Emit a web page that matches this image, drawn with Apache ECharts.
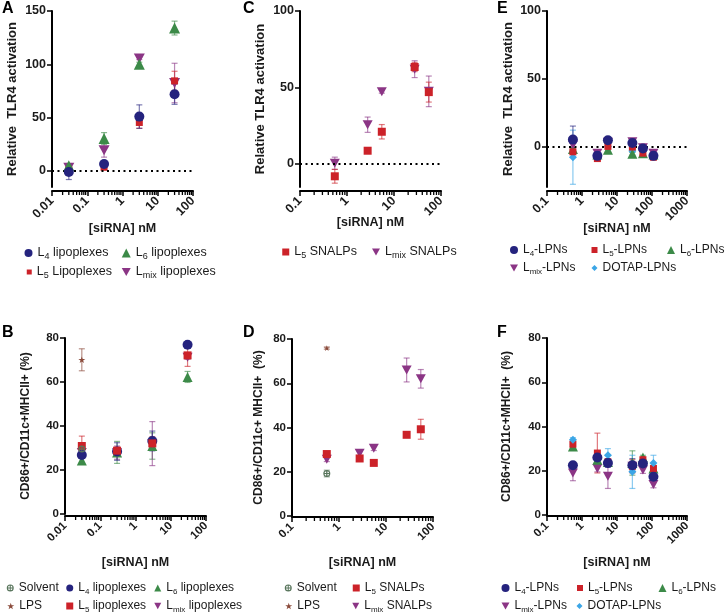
<!DOCTYPE html>
<html>
<head>
<meta charset="utf-8">
<script src="https://cdn.jsdelivr.net/npm/echarts@6.0.0/dist/echarts.min.js"></script>
<style>
  html, body { margin: 0; padding: 0; background: #fff; }
  #main { width: 727px; height: 615px; }
</style>
</head>
<body>
<div id="main"></div>
<script>
// ---------- data ----------
// A: TLR4 activation, lipoplexes
var concA = [0.03, 0.3, 3, 30];
var aL4 = [-1, 6.5, 51, 72],      aL4Err = [7, 1.5, 11, 9.5];
var aL5 = [1, 3.5, 45.5, 84.5],   aL5Err = [1, 1, 5.5, 9];
var aL6 = [5, 30.5, 100, 134],    aL6Err = [2, 5.5, 2, 6.5];
var aLmix = [3, 19.5, 105.5, 82.5], aLmixErr = [1, 6.5, 1, 18.5];

// B: CD86+ cells, lipoplexes
var concB = [0.03, 0.3, 3, 30];
var concBctl = [0.03];
var bL4 = [26.8, 28.4, 33.2, 76.9],  bL4Err = [1, 4, 4.5, 1];
var bL5 = [30.9, 28.8, 32.1, 72.1],  bL5Err = [4.5, 1.5, 3, 5];
var bL6 = [24.3, 28, 30.9, 62.3],    bL6Err = [1, 5, 6, 2.5];
var bLmix = [28, 27.9, 32, 71.3],    bLmixErr = [1, 3, 10, 1];
var bSolvent = [29.5], bSolventErr = [1];
var bLPS = [70.1], bLPSErr = [5];

// C: TLR4 activation, SNALPs
var concC = [0.55, 2.75, 5.5, 27.5, 55];
var cL5 = [-8, 8.7, 21.1, 63.4, 47],    cL5Err = [4.5, 1, 4.7, 3, 6.5];
var cLmix = [0.5, 25.7, 47.3, 62, 47.5], cLmixErr = [4, 5, 1, 5.5, 10];

// D: CD86+ cells, SNALPs
var concD = [0.55, 2.75, 5.5, 27.5, 55];
var concDctl = [0.55];
var dL5 = [28, 26, 24, 36.7, 39.2],   dL5Err = [1, 1, 1, 1, 4.5];
var dLmix = [25.6, 28.4, 30.6, 66, 62], dLmixErr = [1, 1, 1, 5.4, 4.2];
var dSolvent = [19.2], dSolventErr = [1.5];
var dLPS = [75.9], dLPSErr = [0.5];

// E: TLR4 activation, LPNs
var concE = [0.55, 2.75, 5.5, 27.5, 55, 110];
var eL4 = [5, -7, 4.5, 2.5, -1.5, -7],   eL4Err = [10, 2, 1, 1, 1, 1];
var eL5 = [-4, -9, 0, -0.5, -5, -8],     eL5Err = [2, 1, 1, 1, 1, 1];
var eL6 = [-2, -6, -2.5, -5.5, -5, -6],  eL6Err = [1, 1, 1, 1, 1, 1];
var eLmix = [1, -5, 3, 3.5, -1, -5],     eLmixErr = [2, 1, 1, 1, 1, 1];
var eDOTAP = [-8, -6, 0, -3.5, -3, -6],  eDOTAPErr = [20, 1, 1, 1, 1, 1];

// F: CD86+ cells, LPNs
var concF = [0.55, 2.75, 5.5, 27.5, 55, 110];
var fL4 = [22.5, 26, 23.5, 22.5, 23.3, 17.3],  fL4Err = [1, 2, 2, 3, 1, 1.5];
var fL5 = [32, 28, 24, 22, 25, 21],            fL5Err = [1, 9, 1, 3, 1, 1];
var fL6 = [31, 25, 24, 23.5, 26, 21],          fL6Err = [1, 1, 1, 5.5, 1, 1.5];
var fLmix = [19, 21, 17.5, 22, 20.3, 13.8],    fLmixErr = [3.5, 1.5, 5.5, 2, 1.5, 1.5];
var fDOTAP = [34, 26, 27, 19.5, 23, 23.5],     fDOTAPErr = [1, 1, 3, 7.5, 1, 3.5];

// ---------- styles ----------
var FONT = 'Arial, "Liberation Sans", Helvetica, sans-serif';
var NAVY = '#25237e', RED = '#cc2229', GREEN = '#3c8a48', PURPLE = '#8b3585',
    BLUE = '#3ca6e6', BROWN = '#8a4a3a', SOLV = '#58755c';
var SYM = {
  circle: 'circle', rect: 'rect', triangle: 'triangle', diamond: 'diamond',
  down: 'path://M0,0L10,0L5,9Z',
  star: 'path://M5,0L6.18,3.62L10,3.62L6.91,5.86L8.09,9.5L5,7.24L1.91,9.5L3.09,5.86L0,3.62L3.82,3.62Z',
  solvent: 'path://M0,5A5,5,0,1,1,10,5A5,5,0,1,1,0,5ZM1.6,5A3.4,3.4,0,1,0,8.4,5A3.4,3.4,0,1,0,1.6,5ZM4.3,0.5L5.7,0.5L5.7,9.5L4.3,9.5ZM0.5,4.3L9.5,4.3L9.5,5.7L0.5,5.7Z'
};

var panels = [
  { letter: 'A', lx: 2, ly: 1, box: [52, 11, 141, 176], xmin: 0.01, xmax: 100, xoff: 4,
    ymin: -15, ymax: 150, yTicks: [0, 50, 100, 150], yName: 'Relative  TLR4 activation',
    yGap: 33, xGap: 31, fs: 13, zero: true,
    groups: [
      ['Lmix lipoplexes', concA, aLmix, aLmixErr, 'down', 11, PURPLE],
      ['L5 Lipoplexes', concA, aL5, aL5Err, 'rect', 7, RED],
      ['L6 lipoplexes', concA, aL6, aL6Err, 'triangle', 11, GREEN],
      ['L4 lipoplexes', concA, aL4, aL4Err, 'circle', 10, NAVY]
    ] },
  { letter: 'C', lx: 243, ly: 1, box: [300, 11, 141, 176], xmin: 0.1, xmax: 100, xoff: 4,
    ymin: -15, ymax: 100, yTicks: [0, 50, 100], yName: 'Relative TLR4 activation',
    yGap: 33, xGap: 25, fs: 13, zero: true,
    groups: [
      ['Lmix SNALPs', concC, cLmix, cLmixErr, 'down', 10, PURPLE],
      ['L5 SNALPs', concC, cL5, cL5Err, 'rect', 8, RED]
    ] },
  { letter: 'E', lx: 497, ly: 1, box: [547, 11, 140, 176], xmin: 0.1, xmax: 1000, xoff: 4,
    ymin: -30, ymax: 100, yTicks: [0, 50, 100], yName: 'Relative  TLR4 activation',
    yGap: 32, xGap: 31, fs: 13, zero: true,
    groups: [
      ['DOTAP-LPNs', concE, eDOTAP, eDOTAPErr, 'diamond', 8, BLUE],
      ['L6-LPNs', concE, eL6, eL6Err, 'triangle', 10, GREEN],
      ['Lmix-LPNs', concE, eLmix, eLmixErr, 'down', 10, PURPLE],
      ['L5-LPNs', concE, eL5, eL5Err, 'rect', 7, RED],
      ['L4-LPNs', concE, eL4, eL4Err, 'circle', 10, NAVY]
    ] },
  { letter: 'B', lx: 2, ly: 325, box: [65, 338, 141, 176], xmin: 0.01, xmax: 100, xoff: 2,
    ymin: 0, ymax: 80, yName: 'CD86+/CD11c+MHCII+ (%)',
    yGap: 33, xGap: 40, fs: 12,
    groups: [
      ['L6 lipoplexes', concB, bL6, bL6Err, 'triangle', 10, GREEN],
      ['Lmix lipoplexes', concB, bLmix, bLmixErr, 'down', 10, PURPLE],
      ['L4 lipoplexes', concB, bL4, bL4Err, 'circle', 10, NAVY],
      ['L5 lipoplexes', concB, bL5, bL5Err, 'rect', 8, RED],
      ['Solvent', concBctl, bSolvent, bSolventErr, 'solvent', 7, SOLV],
      ['LPS', concBctl, bLPS, bLPSErr, 'star', 7, BROWN]
    ] },
  { letter: 'D', lx: 243, ly: 325, box: [292, 339, 141, 177], xmin: 0.1, xmax: 100, xoff: 1,
    ymin: 0, ymax: 80, yName: 'CD86+/CD11c+ MHCII+  (%)',
    yGap: 27, xGap: 39, fs: 12,
    groups: [
      ['Solvent', concDctl, dSolvent, dSolventErr, 'solvent', 7, SOLV],
      ['LPS', concDctl, dLPS, dLPSErr, 'star', 6, BROWN],
      ['Lmix SNALPs', concD, dLmix, dLmixErr, 'down', 10, PURPLE],
      ['L5 SNALPs', concD, dL5, dL5Err, 'rect', 8, RED]
    ] },
  { letter: 'F', lx: 497, ly: 325, box: [547, 338, 140, 177], xmin: 0.1, xmax: 1000, xoff: 1,
    ymin: 0, ymax: 80, yName: 'CD86+/CD11c+MHCII+  (%)',
    yGap: 34, xGap: 40, fs: 12,
    groups: [
      ['Lmix-LPNs', concF, fLmix, fLmixErr, 'down', 10, PURPLE],
      ['L6-LPNs', concF, fL6, fL6Err, 'triangle', 10, GREEN],
      ['L5-LPNs', concF, fL5, fL5Err, 'rect', 7, RED],
      ['DOTAP-LPNs', concF, fDOTAP, fDOTAPErr, 'diamond', 8, BLUE],
      ['L4-LPNs', concF, fL4, fL4Err, 'circle', 10, NAVY]
    ] }
];

// legend items: name, icon centre x, y, icon size, text start x, font size
var legendSpec = [
  ['L4 lipoplexes', 28, 253, 8, 38, 12.5], ['L6 lipoplexes', 127, 253, 9, 135, 12.5],
  ['L5 Lipoplexes', 28, 272, 5, 38, 12.5], ['Lmix lipoplexes', 127, 272, 9, 135, 12.5],
  ['L5 SNALPs', 283, 252, 7, 297, 12.5], ['Lmix SNALPs', 375, 252, 8, 386, 12.5],
  ['L4-LPNs', 512, 250, 8, 525, 12], ['L5-LPNs', 593, 250, 6, 604, 12],
  ['L6-LPNs', 671, 250, 8, 680, 12], ['Lmix-LPNs', 512, 268, 8, 525, 12],
  ['DOTAP-LPNs', 593, 268, 6, 604, 12],
  ['Solvent', 12, 588, 7, 17, 12], ['L4 lipoplexes', 70, 588, 7, 78, 12],
  ['L6 lipoplexes', 158, 588, 7, 166, 12], ['LPS', 12, 606, 7, 18, 12],
  ['L5 lipoplexes', 70, 606, 7, 78, 12], ['Lmix lipoplexes', 158, 606, 7, 166, 12],
  ['Solvent', 289, 588, 7, 296, 12], ['L5 SNALPs', 357, 588, 7, 364, 12],
  ['LPS', 290, 606, 7, 296, 12], ['Lmix SNALPs', 356, 606, 7, 364, 12],
  ['L4-LPNs', 507, 588, 8, 513, 12], ['L5-LPNs', 580, 588, 6, 588, 12],
  ['L6-LPNs', 662, 588, 8, 672, 12], ['Lmix-LPNs', 507, 606, 8, 513, 12],
  ['DOTAP-LPNs', 580, 606, 6, 587, 12]
];

// ---------- build option ----------
function minorTicks(lo, hi) {
  var out = [];
  for (var d = lo; d < hi * 0.999; d *= 10) {
    for (var k = 2; k <= 9; k++) out.push(+(d * k).toPrecision(3));
  }
  return out;
}

function errSeries(xi, yi, conc, vals, errs, color) {
  return {
    type: 'custom', xAxisIndex: xi, yAxisIndex: yi, z: 2, silent: true, clip: false,
    encode: { x: 0, y: 1 },
    data: conc.map(function (c, i) { return [c, vals[i], errs[i]]; }),
    renderItem: function (params, api) {
      var x = api.value(0), y = api.value(1), e = api.value(2);
      var a = api.coord([x, y + e]), b = api.coord([x, y - e]);
      var st = { stroke: color, lineWidth: 1.2, opacity: 0.6 };
      return { type: 'group', children: [
        { type: 'line', shape: { x1: a[0], y1: a[1], x2: b[0], y2: b[1] }, style: st },
        { type: 'line', shape: { x1: a[0] - 3, y1: a[1], x2: a[0] + 3, y2: a[1] }, style: st },
        { type: 'line', shape: { x1: b[0] - 3, y1: b[1], x2: b[0] + 3, y2: b[1] }, style: st }
      ] };
    }
  };
}

// minor log ticks, placed through the axis scale
function minorTickSeries(xi, yi, p) {
  return {
    type: 'custom', xAxisIndex: xi, yAxisIndex: yi, z: 10, silent: true, clip: false,
    encode: { x: 0, y: 1 },
    data: minorTicks(p.xmin, p.xmax).map(function (v) { return [v, p.ymin]; }),
    renderItem: function (params, api) {
      var pt = api.coord([api.value(0), api.value(1)]);
      var y0 = pt[1] + p.xoff;
      return { type: 'line', shape: { x1: pt[0], y1: y0, x2: pt[0], y2: y0 + 4 },
               style: { stroke: '#000', lineWidth: 1.3 } };
    }
  };
}

var grids = [], xAxes = [], yAxes = [], series = [], legends = [], graphics = [];
var axisText = { fontFamily: FONT, fontWeight: 'bold', color: '#1a1a1a' };

panels.forEach(function (p, gi) {
  grids.push({ left: p.box[0], top: p.box[1], width: p.box[2], height: p.box[3],
               containLabel: false, outerBoundsMode: 'none' });
  xAxes.push({
    type: 'log', logBase: 10, gridIndex: gi, position: 'bottom',
    min: p.xmin, max: p.xmax, offset: p.xoff,
    name: '[siRNA] nM', nameLocation: 'middle', nameGap: p.xGap, nameMoveOverlap: false,
    nameTextStyle: Object.assign({ fontSize: 12.5 }, axisText),
    axisLine: { show: true, onZero: false, lineStyle: { color: '#000', width: 2 } },
    axisTick: { show: true, length: 5, lineStyle: { color: '#000', width: 1.5 } },
    axisLabel: Object.assign({
      rotate: 45, margin: 8, fontSize: p.fs - 0.5,
      formatter: function (v) { return String(+(+v).toPrecision(6)); }
    }, axisText),
    splitLine: { show: false }, minorTick: { show: false }
  });
  var yLabel = Object.assign({ margin: 6, fontSize: p.fs - 0.5 }, axisText);
  var yTick = { show: true, length: 5, lineStyle: { color: '#000', width: 1.5 } };
  var yAx = {
    type: 'value', gridIndex: gi, min: p.ymin, max: p.ymax,
    name: p.yName, nameLocation: 'middle', nameGap: p.yGap, nameMoveOverlap: false,
    nameTextStyle: Object.assign({ fontSize: p.fs }, axisText),
    axisLine: { show: true, onZero: false, lineStyle: { color: '#000', width: 2 } },
    axisTick: yTick, axisLabel: yLabel, splitLine: { show: false }
  };
  if (p.yTicks) {
    yLabel.customValues = p.yTicks;
    yTick.customValues = p.yTicks;
  } else {
    yAx.interval = 20;
  }
  yAxes.push(yAx);

  series.push(minorTickSeries(gi, gi, p));
  p.groups.forEach(function (g, k) {
    var s = {
      type: 'scatter', name: g[0], xAxisIndex: gi, yAxisIndex: gi, z: 3 + k,
      symbol: SYM[g[4]], symbolSize: g[5], symbolKeepAspect: true,
      itemStyle: { color: g[6], opacity: 1 },
      data: g[1].map(function (c, i) { return [c, g[2][i]]; })
    };
    if (k === 0 && p.zero) {
      s.markLine = {
        silent: true, symbol: 'none', label: { show: false },
        lineStyle: { color: '#000', width: 2, type: [2, 3.5] },
        data: [{ yAxis: 0 }]
      };
    }
    series.push(s);
    if (g[3]) series.push(errSeries(gi, gi, g[1], g[2], g[3], g[6]));
  });

  graphics.push({ type: 'text', left: p.lx, top: p.ly,
                  style: { text: p.letter, font: 'bold 16px ' + FONT, fill: '#000' } });
});

legendSpec.forEach(function (l) {
  var w = l[3];
  var left = ((l[1] - w / 2) + (l[4] - 5 - w)) / 2;
  legends.push({
    data: [l[0]], left: left, top: l[2] - 8, padding: 0, itemGap: 0,
    itemWidth: w, itemHeight: w, selectedMode: false,
    formatter: function (name) { return name.replace(/^L(4|5|6|mix)/, 'L{s|$1}'); },
    textStyle: {
      fontFamily: FONT, fontSize: l[5], color: '#1a1a1a', lineHeight: 16,
      rich: { s: { fontFamily: FONT, fontSize: Math.round(l[5] * 0.68), lineHeight: 9,
                   padding: [7, 0, 0, 0], color: '#1a1a1a' } }
    }
  });
});

var myChart = echarts.init(document.getElementById('main'));
myChart.setOption({
  animation: false,
  textStyle: { fontFamily: FONT },
  grid: grids, xAxis: xAxes, yAxis: yAxes,
  legend: legends, series: series, graphic: graphics
});
</script>
</body>
</html>
